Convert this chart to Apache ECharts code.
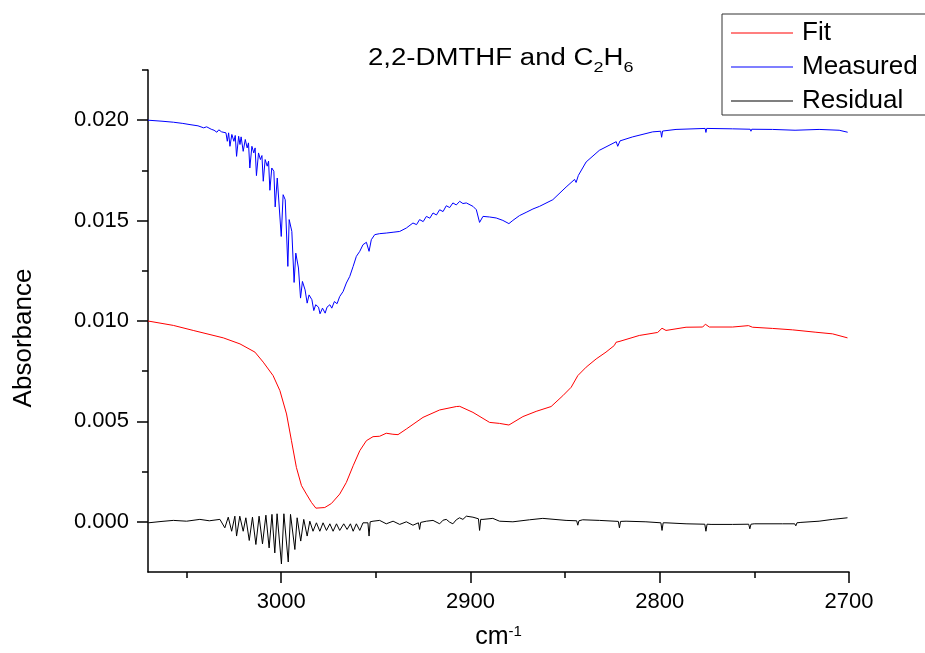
<!DOCTYPE html>
<html>
<head>
<meta charset="utf-8">
<script src="https://cdn.jsdelivr.net/npm/echarts@6/dist/echarts.min.js"></script>
<style>html,body{margin:0;padding:0;background:#fff}#c{width:925px;height:653px}</style>
</head>
<body>
<div id="c"></div>
<script>
// ---- data (wavenumber cm-1, absorbance) ----
const measuredX = [3070.4,3063,3057,3052,3048.2,3044,3041,3039.4,3037,3035.5,3034,3033,3031.5,3030.6,3029.2,3028.5,3027.8,3027.1,3026.1,3025.0,3024.3,3023.6,3022.5,3021.8,3021.2,3020.1,3019.0,3018.0,3017.3,3016.6,3015.5,3014.5,3013.8,3013.1,3012.0,3011.0,3010.2,3009.5,3008.5,3007.4,3006.7,3006.0,3005.0,3003.9,3003.2,3002.1,3001.1,3000.0,2999.0,2997.9,2996.5,2995.8,2994.4,2993.2,2992.3,2990.9,2989.8,2988.8,2987.4,2986.3,2985.3,2983.8,2982.8,2981.8,2980.3,2979.5,2978.2,2976.8,2975.8,2974.3,2973.3,2971.9,2970.5,2969.1,2967.3,2965.6,2963.8,2962.0,2960.3,2958.5,2956.8,2955.0,2953.6,2952.4,2950.6,2948.0,2944.5,2940.9,2937.4,2933.9,2930.4,2928.5,2926.9,2925,2923.3,2921.5,2919.8,2918,2916.3,2914.5,2912.8,2911,2909.3,2907.5,2905.7,2904,2902.2,2898.7,2896.9,2895.2,2893.4,2889.9,2886.4,2882.9,2879.7,2877.6,2874.1,2870.6,2867.0,2863.5,2856.5,2849.5,2845,2844.2,2843,2838.9,2831.9,2823,2822.2,2821,2814.3,2803.7,2799.5,2799.0,2798.5,2791.4,2776,2775.6,2775.2,2761.5,2752.2,2751.8,2751.4,2740.4,2728.5,2728.1,2727.7,2715.8,2705.2,2700.7];
const measuredY = [0.02000,0.01995,0.01990,0.01984,0.01978,0.01972,0.01962,0.01967,0.01955,0.01950,0.01940,0.01952,0.01942,0.01937,0.01937,0.01895,0.01937,0.01870,0.01929,0.01895,0.01924,0.01820,0.01920,0.01879,0.01917,0.01845,0.01904,0.01862,0.01887,0.01762,0.01870,0.01837,0.01862,0.01724,0.01837,0.01804,0.01824,0.01696,0.01804,0.01771,0.01796,0.01651,0.01762,0.01746,0.01568,0.01712,0.01704,0.01421,0.01629,0.01604,0.01272,0.01505,0.01446,0.01192,0.01338,0.01264,0.01114,0.01197,0.01155,0.01089,0.01130,0.01106,0.01052,0.01081,0.01069,0.01036,0.01064,0.01039,0.01069,0.01081,0.01064,0.01097,0.01086,0.01122,0.01147,0.01189,0.01222,0.01272,0.01322,0.01347,0.01380,0.01392,0.01347,0.01405,0.01430,0.01435,0.01438,0.01442,0.01446,0.01463,0.01488,0.01480,0.01505,0.01495,0.01521,0.01512,0.01538,0.01528,0.01554,0.01545,0.01574,0.01565,0.01588,0.01578,0.01596,0.01585,0.01588,0.01571,0.01554,0.01491,0.01521,0.01518,0.01513,0.01501,0.01485,0.01501,0.01525,0.01541,0.01558,0.01571,0.01604,0.01667,0.01705,0.01690,0.01725,0.01792,0.01850,0.01893,0.01870,0.01897,0.01917,0.01942,0.01945,0.01915,0.01946,0.01954,0.01959,0.01939,0.01959,0.01957,0.01955,0.01945,0.01955,0.01954,0.01950,0.01944,0.01950,0.01954,0.01950,0.01940];

const fitX = [3070.4,3057.0,3046.5,3030.6,3021.8,3013.9,3009.5,3004.3,3000.7,2997.2,2994.6,2992.0,2989.3,2986.7,2984.0,2981.7,2977.0,2973.5,2969.1,2965.6,2962.0,2958.5,2955.0,2951.5,2948.0,2944.5,2941,2938.3,2933.9,2925.1,2916.3,2907.5,2905.7,2898.7,2889.9,2884.65,2879.7,2872.3,2865.3,2857.4,2851.2,2846.8,2843.3,2838.9,2833.6,2828.4,2824.0,2823.1,2821.0,2810.8,2801.1,2798.8,2796.7,2786.1,2777.3,2775.9,2773.8,2761.5,2753.1,2751.0,2740.4,2729.9,2717.5,2708.7,2700.8];
const fitY = [0.01000,0.00978,0.00953,0.00916,0.00886,0.00845,0.00795,0.00728,0.00653,0.00537,0.00404,0.00271,0.00180,0.00138,0.00096,0.00068,0.00071,0.00091,0.00138,0.00196,0.00279,0.00354,0.00404,0.00424,0.00426,0.00441,0.00436,0.00434,0.00462,0.00520,0.00557,0.00574,0.00575,0.00545,0.00495,0.00490,0.00482,0.00524,0.00550,0.00574,0.00628,0.00670,0.00728,0.00770,0.00811,0.00845,0.00878,0.00894,0.00899,0.00928,0.00943,0.00964,0.00953,0.00969,0.00970,0.00984,0.00970,0.00970,0.00977,0.00969,0.00963,0.00956,0.00944,0.00936,0.00916];

const residualX = [3070.2,3063,3057.0,3050,3043.0,3038,3032.4,3029.8,3028.0,3026.2,3024.5,3023.6,3021.9,3020.1,3018.7,3016.9,3015.2,3013.4,3011.7,3009.9,3008.1,3006.4,3004.9,3003.4,3002.2,2999.9,2998.6,2996.3,2995.1,2992.8,2991.6,2989.7,2988.1,2986.3,2984.9,2983.2,2981.4,2979.6,2977.9,2976.1,2974.3,2972.6,2970.8,2969.1,2966.97,2965.2,2963.45,2962.0,2960.3,2958.5,2956.8,2954.2,2953.6,2953.0,2951.5,2948.0,2944.5,2940.9,2937.4,2933.9,2930.4,2927.5,2926.9,2926.3,2923.3,2919.8,2916.3,2914.5,2912.8,2911,2909.3,2907.5,2905.8,2904,2902.2,2898.7,2895.8,2895.2,2894.6,2893.4,2888.2,2884.65,2877.6,2868.8,2861.8,2849.5,2843.9,2843.3,2842.7,2840.7,2831.9,2821.9,2821.3,2820.7,2817.8,2807.3,2799.4,2798.8,2798.2,2796.7,2786.1,2776.2,2775.6,2775.0,2772.9,2761.5,2753.0,2752.4,2751.8,2750.1,2735.1,2728.7,2728.1,2727.5,2725.4,2715.8,2708.7,2700.8];
const residualY = [-0.00005,0.00002,0.00007,0.00003,0.00012,0.00005,0.00012,-0.00030,0.00023,-0.00047,0.00028,-0.00071,0.00028,-0.00047,0.00020,-0.00093,0.00023,-0.00113,0.00028,-0.00110,0.00033,-0.00130,0.00037,-0.00155,0.00040,-0.00210,0.00040,-0.00200,0.00037,-0.00138,0.00020,-0.00096,0.00012,-0.00071,0.00003,-0.00047,-0.00005,-0.00047,-0.00005,-0.00043,-0.00010,-0.00047,-0.00010,-0.00043,-0.00010,-0.00038,-0.00010,-0.00047,-0.00010,-0.00043,-0.00005,-0.00005,-0.00071,0.00000,0.00003,0.00007,-0.00010,0.00003,-0.00013,0.00000,-0.00017,-0.00005,-0.00038,-0.00003,0.00003,0.00007,-0.00010,0.00008,0.00012,-0.00002,-0.00010,0.00010,0.00020,0.00012,0.00028,0.00023,0.00015,-0.00043,0.00012,0.00012,0.00017,0.00003,0.00000,0.00010,0.00017,0.00007,0.00005,-0.00017,0.00005,0.00010,0.00007,0.00002,-0.00030,0.00002,0.00003,0.00000,-0.00005,-0.00043,-0.00005,-0.00005,-0.00010,-0.00012,-0.00047,-0.00012,-0.00013,-0.00013,-0.00012,-0.00035,-0.00012,-0.00010,-0.00010,-0.00010,-0.00020,-0.00005,-0.00003,0.00003,0.00012,0.00020];

const xMajorTicks = [3000, 2900, 2800, 2700];
const xMinorTicks = [3050, 2950, 2850, 2750];
const yMajorTicks = [0, 0.005, 0.010, 0.015, 0.020];
const yMinorTicks = [0.0025, 0.0075, 0.0125, 0.0175, 0.0225];
const seriesNames = ['Fit', 'Measured', 'Residual'];
const seriesColors = ['#ff0000', '#0000ff', '#000000'];

const pair = (xs, ys) => xs.map((x, i) => [x, ys[i]]);
const FONT = 'Liberation Sans';
const chart = echarts.init(document.getElementById('c'), null, {renderer: 'canvas'});
const axisLine = {show: true, onZero: false, lineStyle: {color: '#000', width: 1.5}};
chart.setOption({
  animation: false,
  backgroundColor: '#fff',
  grid: {left: 148, right: 76, top: 70, bottom: 81, containLabel: false, outerBoundsMode: 'none'},
  graphic: [{
    type: 'text', left: 368, top: 47, scaleX: 1.2,
    style: {
      text: '{n|2,2-DMTHF and C}{s|2}{n|H}{s|6}',
      rich: {
        n: {fontFamily: FONT, fontSize: 23, fill: '#000', verticalAlign: 'top', lineHeight: 28},
        s: {fontFamily: FONT, fontSize: 15, fill: '#000', padding: [13, 0, 0, 0], verticalAlign: 'top', lineHeight: 28}
      }
    }
  }, {
    type: 'text', x: 24, y: 338, rotation: Math.PI / 2,
    style: {text: 'Absorbance', fontFamily: FONT, fontSize: 26, fill: '#000', align: 'center', verticalAlign: 'middle'}
  }],
  legend: {
    data: seriesNames.map(n => ({name: n, icon: 'rect'})), orient: 'vertical', left: 722, top: 14,
    borderColor: '#333', borderWidth: 1, borderRadius: 0,
    padding: [5, 60, 0, 9], itemGap: 6, itemWidth: 62, itemHeight: 1.2,
    textStyle: {fontFamily: FONT, fontSize: 26, color: '#000', lineHeight: 28, padding: [0, 0, 0, 4]}
  },
  xAxis: [{
    type: 'value', inverse: true, min: 2700, max: 3070.4, position: 'bottom',
    axisLine: axisLine, splitLine: {show: false},
    axisTick: {show: true, customValues: xMajorTicks, length: 11, lineStyle: {color: '#000', width: 1.5}},
    axisLabel: {customValues: xMajorTicks, formatter: v => String(v), fontFamily: FONT, fontSize: 22, color: '#000', margin: 19},
    name: '{a|cm}{b|-1}', nameLocation: 'middle', nameGap: 52,
    nameTextStyle: {rich: {a: {fontFamily: FONT, fontSize: 25, color: '#000'}, b: {fontFamily: FONT, fontSize: 15, color: '#000', verticalAlign: 'top', padding: [0, 0, 12, 0]}}}
  }, {
    type: 'value', inverse: true, min: 2700, max: 3070.4, position: 'bottom',
    axisLine: {show: false, onZero: false}, splitLine: {show: false},
    axisTick: {show: true, customValues: xMinorTicks, length: 6, lineStyle: {color: '#000', width: 1.5}},
    axisLabel: {show: false}
  }],
  yAxis: [{
    type: 'value', min: -0.0025, max: 0.0225, position: 'left',
    axisLine: axisLine, splitLine: {show: false},
    axisTick: {show: true, customValues: yMajorTicks, length: 11, lineStyle: {color: '#000', width: 1.5}},
    axisLabel: {customValues: yMajorTicks, formatter: v => v.toFixed(3), fontFamily: FONT, fontSize: 22, color: '#000', margin: 19}
  }, {
    type: 'value', min: -0.0025, max: 0.0225, position: 'left',
    axisLine: {show: false, onZero: false}, splitLine: {show: false},
    axisTick: {show: true, customValues: yMinorTicks, length: 6, lineStyle: {color: '#000', width: 1.5}},
    axisLabel: {show: false}
  }],
  series: seriesNames.map((name, i) => ({
    name: name, type: 'line', symbol: 'none', showSymbol: false,
    data: [pair(fitX, fitY), pair(measuredX, measuredY), pair(residualX, residualY)][i],
    lineStyle: {color: seriesColors[i], width: 1}, itemStyle: {color: seriesColors[i]}
  }))
});
</script>
</body>
</html>
